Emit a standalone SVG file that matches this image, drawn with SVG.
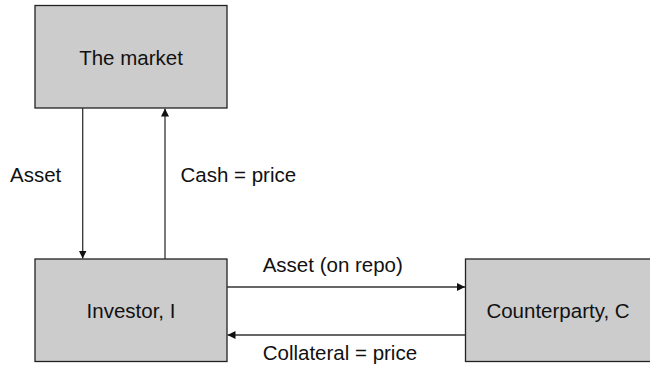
<svg xmlns="http://www.w3.org/2000/svg" width="650" height="365" viewBox="0 0 650 365">
<style>
.box{fill:#cccccc;stroke:#222;stroke-width:1.3}
.t{font-family:"Liberation Sans",Arial,sans-serif;font-size:20.5px;fill:#111}
.c{text-anchor:middle}
.ln{stroke:#333;stroke-width:1.3;fill:none}
</style>
<defs>
<marker id="ah" viewBox="0 0 10 10" refX="10" refY="5" markerWidth="8" markerHeight="8" markerUnits="userSpaceOnUse" orient="auto">
<path d="M0,0 L10,5 L0,10 z" fill="#111"/>
</marker>
</defs>
<rect width="650" height="365" fill="#fff"/>
<g id="market"><rect class="box" x="35" y="5.5" width="192" height="102.5"/><text class="t c" x="131" y="65">The market</text></g>
<g id="investor"><rect class="box" x="35" y="259" width="192" height="102.5"/><text class="t c" x="131" y="318">Investor, I</text></g>
<g id="counterparty"><rect class="box" x="465.5" y="259" width="200" height="102.5"/><text class="t c" x="558" y="318">Counterparty, C</text></g>
<g id="connectors">
<line class="ln" x1="82.7" y1="108" x2="82.7" y2="258.5" marker-end="url(#ah)"/>
<line class="ln" x1="165" y1="259" x2="165" y2="108.5" marker-end="url(#ah)"/>
<line class="ln" x1="227" y1="287" x2="465" y2="287" marker-end="url(#ah)"/>
<line class="ln" x1="465.5" y1="335" x2="227.5" y2="335" marker-end="url(#ah)"/>
<text class="t" x="10" y="181.5">Asset</text>
<text class="t" x="180.5" y="181.5">Cash = price</text>
<text class="t" x="262.7" y="271.5">Asset (on repo)</text>
<text class="t" x="262.7" y="360">Collateral = price</text>
</g>
</svg>
